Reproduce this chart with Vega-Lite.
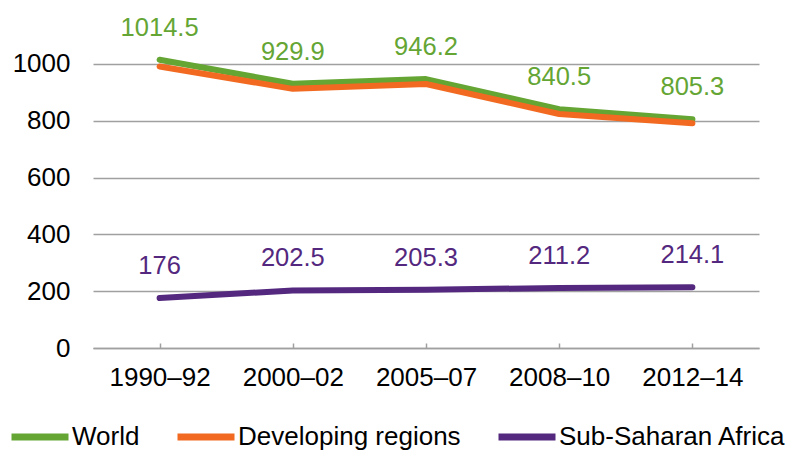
{
  "$schema": "https://vega.github.io/schema/vega-lite/v6.json",
  "width": 666,
  "height": 341,
  "autosize": {"type": "none"},
  "padding": {"left": 93, "top": 7, "right": 36, "bottom": 102},
  "background": "white",
  "config": {
    "view": {"stroke": null},
    "font": "Liberation Sans"
  },
  "data": {
    "values": [
      {"period": "1990–92", "series": "World", "value": 1014.5},
      {"period": "2000–02", "series": "World", "value": 929.9},
      {"period": "2005–07", "series": "World", "value": 946.2},
      {"period": "2008–10", "series": "World", "value": 840.5},
      {"period": "2012–14", "series": "World", "value": 805.3},
      {"period": "1990–92", "series": "Developing regions", "value": 990.7},
      {"period": "2000–02", "series": "Developing regions", "value": 912.0},
      {"period": "2005–07", "series": "Developing regions", "value": 929.0},
      {"period": "2008–10", "series": "Developing regions", "value": 823.5},
      {"period": "2012–14", "series": "Developing regions", "value": 790.7},
      {"period": "1990–92", "series": "Sub-Saharan Africa", "value": 176},
      {"period": "2000–02", "series": "Sub-Saharan Africa", "value": 202.5},
      {"period": "2005–07", "series": "Sub-Saharan Africa", "value": 205.3},
      {"period": "2008–10", "series": "Sub-Saharan Africa", "value": 211.2},
      {"period": "2012–14", "series": "Sub-Saharan Africa", "value": 214.1}
    ]
  },
  "encoding": {
    "x": {
      "field": "period",
      "type": "ordinal",
      "sort": null,
      "scale": {"type": "point", "padding": 0.5},
      "axis": {
        "title": null,
        "labelAngle": 0,
        "labelFontSize": 26,
        "labelColor": "#000000",
        "labelPadding": 21,
        "domainColor": "#A0A0A0",
        "domainWidth": 1.5,
        "tickColor": "#A0A0A0",
        "tickWidth": 1.5,
        "tickSize": -5,
        "grid": false
      }
    },
    "y": {
      "field": "value",
      "type": "quantitative",
      "scale": {"domain": [0, 1200], "nice": false},
      "axis": {
        "title": null,
        "values": [0, 200, 400, 600, 800, 1000],
        "format": "d",
        "labelFontSize": 26,
        "labelColor": "#000000",
        "labelPadding": 23,
        "ticks": false,
        "domain": false,
        "grid": true,
        "gridColor": "#A0A0A0",
        "gridWidth": 1.5
      }
    },
    "color": {
      "field": "series",
      "type": "nominal",
      "scale": {
        "domain": ["World", "Developing regions", "Sub-Saharan Africa"],
        "range": ["#64A534", "#F26A21", "#53287E"]
      }
    }
  },
  "layer": [
    {
      "mark": {"type": "line", "strokeWidth": 6, "strokeCap": "round", "strokeJoin": "round"},
      "encoding": {
        "color": {
          "field": "series",
          "type": "nominal",
          "legend": {
            "orient": "none",
            "legendX": -85,
            "legendY": 398,
            "direction": "horizontal",
            "title": null,
            "symbolType": "stroke",
            "symbolSize": 3249,
            "symbolStrokeWidth": 7,
            "labelFontSize": 26,
            "labelColor": "#000000",
            "labelOffset": 0,
            "labelLimit": 0,
            "columnPadding": 23,
            "padding": 0
          }
        }
      }
    },
    {
      "transform": [{"filter": "datum.series !== 'Developing regions'"}],
      "mark": {"type": "text", "fontSize": 25.5, "baseline": "alphabetic", "dy": -24},
      "encoding": {
        "text": {"field": "value", "type": "quantitative"},
        "color": {"field": "series", "type": "nominal", "legend": null}
      }
    }
  ]
}
